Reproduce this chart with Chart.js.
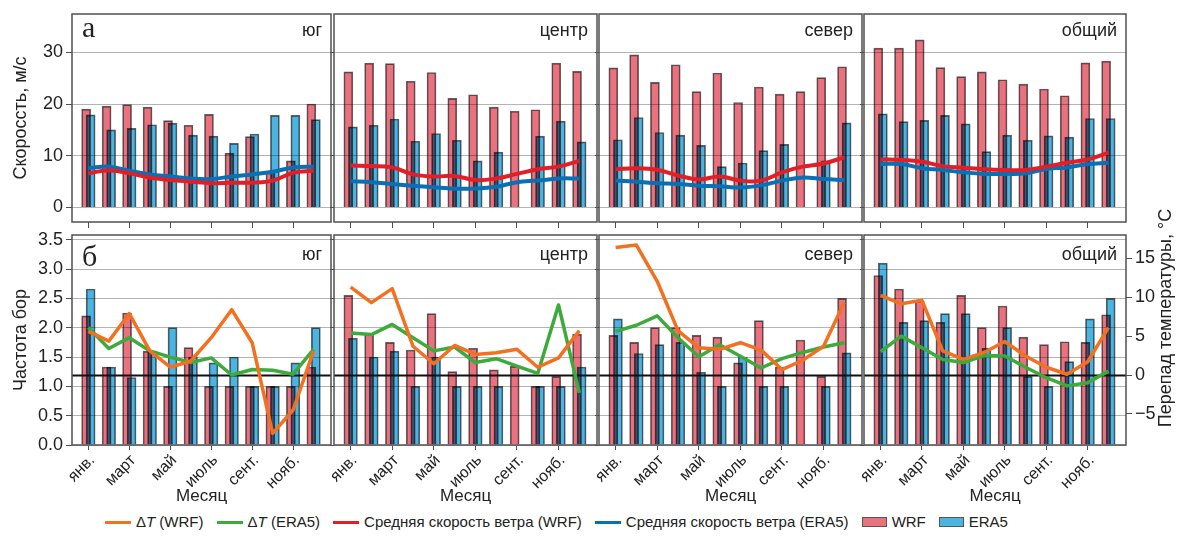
<!DOCTYPE html>
<html>
<head>
<meta charset="utf-8">
<script src="https://cdn.jsdelivr.net/npm/chart.js@4.4.1/dist/chart.umd.min.js"></script>
<style>
  html, body { margin: 0; padding: 0; background: #fff; }
  body { position: relative; width: 1180px; height: 538px; overflow: hidden;
         font-family: 'Liberation Sans', Arial, sans-serif; color: #222; }
  canvas { position: absolute; left: 0; top: 0; }
  #legend { position: absolute; left: 105px; top: 512px; height: 20px; display: flex; gap: 13px;
            font-size: 15px; line-height: 20px; white-space: nowrap; }
  .lg { display: flex; align-items: center; }
  .sw-line { width: 26px; height: 3px; margin-right: 5px; }
  .sw-box { width: 25px; height: 10px; margin-right: 5px; border: 1px solid #555; box-sizing: border-box; }
</style>
</head>
<body>
<div id="legend">
  <div class="lg"><div class="sw-line" style="background:#f37021"></div><span>Δ<i>T</i> (WRF)</span></div>
  <div class="lg"><div class="sw-line" style="background:#3daa3c"></div><span>Δ<i>T</i> (ERA5)</span></div>
  <div class="lg"><div class="sw-line" style="background:#e31e26"></div><span>Средняя скорость ветра (WRF)</span></div>
  <div class="lg"><div class="sw-line" style="background:#0a70b6"></div><span>Средняя скорость ветра (ERA5)</span></div>
  <div class="lg"><div class="sw-box" style="background:#ea717e"></div><span>WRF</span></div>
  <div class="lg"><div class="sw-box" style="background:#4bb4e1"></div><span>ERA5</span></div>
</div>
<script>
// ---- months and tick labels ----
const monthNums = [1, 2, 3, 4, 5, 6, 7, 8, 9, 10, 11, 12];
const tickMonths = [1, 3, 5, 7, 9, 11];
const tickLabels = ['янв.', 'март', 'май', 'июль', 'сент.', 'нояб.'];
const regionNames = ['юг', 'центр', 'север', 'общий'];

// ---- (а) wind speed, m/s: maximum (bars) and mean (lines) ----
const speedWrfSouth  = [19.0, 19.6, 19.9, 19.4, 16.8, 15.9, 18.0, 10.5, 13.7, 7.0, 9.0, 20.0];
const speedEra5South = [17.9, 15.0, 15.3, 16.0, 16.3, 14.0, 13.8, 12.4, 14.2, 17.8, 17.8, 17.0];
const meanWrfSouth   = [6.6, 7.2, 6.6, 5.8, 5.3, 5.0, 4.7, 4.8, 4.8, 5.2, 6.7, 7.1];
const meanEra5South  = [7.6, 7.9, 7.1, 6.4, 6.0, 5.6, 5.5, 6.0, 6.4, 6.9, 7.75, 7.9];

const speedWrfCenter  = [26.2, 27.9, 27.8, 24.4, 26.1, 21.1, 21.8, 19.4, 18.6, 18.9, 27.9, 26.3];
const speedEra5Center = [15.6, 15.9, 17.1, 12.8, 14.3, 13.0, 9.0, 10.7, null, 13.8, 16.7, 12.7];
const meanWrfCenter   = [8.1, 8.0, 7.75, 6.4, 6.0, 6.1, 5.3, 5.6, 6.5, 7.4, 7.9, 9.0];
const meanEra5Center  = [5.1, 4.9, 4.55, 4.2, 3.9, 3.65, 3.65, 4.0, 4.9, 5.2, 5.6, 5.6];

const speedWrfNorth  = [27.0, 29.5, 24.2, 27.6, 22.4, 26.0, 20.3, 23.3, 21.9, 22.4, 25.1, 27.2];
const speedEra5North = [13.1, 17.4, 14.5, 14.0, 12.0, 7.9, 8.6, 11.0, 12.2, null, 9.0, 16.35];
const meanWrfNorth   = [7.4, 7.6, 7.3, 6.2, 5.4, 6.0, 5.2, 5.2, 6.8, 7.9, 8.5, 9.7];
const meanEra5North  = [5.2, 5.0, 4.7, 4.55, 4.2, 4.1, 3.85, 4.3, 5.2, 5.8, 5.5, 5.3];

const speedWrfTotal  = [30.8, 30.8, 32.4, 27.05, 25.3, 26.2, 24.7, 23.85, 22.9, 21.6, 27.95, 28.3];
const speedEra5Total = [18.1, 16.6, 16.85, 17.8, 16.15, 10.8, 14.0, 13.0, 13.85, 13.6, 17.2, 17.2];
const meanWrfTotal   = [9.3, 9.2, 8.85, 8.0, 7.7, 7.4, 7.25, 7.25, 7.9, 8.65, 9.3, 10.6];
const meanEra5Total  = [8.4, 8.4, 7.6, 7.25, 6.8, 6.5, 6.5, 6.6, 7.45, 7.75, 8.4, 8.65];

// ---- (б) bora frequency (bars) and temperature difference, °C (lines) ----
const boraWrfSouth  = [2.2, 1.33, 2.25, 1.6, 1.0, 1.66, 1.0, 1.0, 1.0, 1.0, 1.0, 1.33];
const boraEra5South = [2.66, 1.33, 1.15, 1.6, 2.0, 1.5, 1.4, 1.5, 1.0, 1.0, 1.4, 2.0];
const dtWrfSouth    = [5.6, 4.35, 7.9, 3.1, 1.0, 1.8, 4.8, 8.4, 4.15, -7.5, -4.5, 3.1];
const dtEra5South   = [6.1, 3.4, 4.8, 3.1, 2.3, 1.6, 2.2, 0.0, 0.7, 0.6, 0.1, 3.3];

const boraWrfCenter  = [2.55, 1.88, 1.75, 1.62, 2.24, 1.25, 1.65, 1.28, 1.34, 1.0, 1.17, 1.89];
const boraEra5Center = [1.82, 1.5, 1.6, 1.0, 1.5, 1.0, 1.0, 1.0, null, 1.0, 1.0, 1.33];
const dtWrfCenter    = [11.3, 9.3, 11.1, 3.7, 1.45, 3.8, 2.65, 2.85, 3.3, 1.0, 2.2, 5.7];
const dtEra5Center   = [5.4, 5.2, 6.5, 4.8, 3.1, 3.6, 1.6, 2.1, 1.15, 0.2, 9.0, -2.3];

const boraWrfNorth  = [1.87, 1.75, 2.0, 2.0, 1.87, 1.84, 1.4, 2.12, 1.33, 1.79, 1.17, 2.5];
const boraEra5North = [2.15, 1.56, 1.71, 1.75, 1.24, 1.0, 1.5, 1.0, 1.0, null, 1.0, 1.57];
const dtWrfNorth    = [16.4, 16.7, 12.05, 5.7, 3.5, 3.3, 4.15, 3.2, 0.7, 1.9, 3.7, 9.35];
const dtEra5North   = [5.6, 6.4, 7.6, 4.8, 2.35, 3.9, 2.4, 0.9, 2.1, 2.9, 3.6, 4.15];

const boraWrfTotal  = [2.89, 2.66, 2.45, 2.09, 2.55, 2.0, 2.37, 1.84, 1.71, 1.76, 1.75, 2.22];
const boraEra5Total = [3.1, 2.09, 2.12, 2.24, 2.24, 1.65, 2.0, 1.17, 1.0, 1.42, 2.15, 2.5];
const dtWrfTotal    = [10.25, 9.15, 9.6, 3.1, 2.0, 2.9, 4.3, 2.45, 1.0, 0.1, 1.7, 6.1];
const dtEra5Total   = [3.0, 5.0, 3.5, 2.0, 1.6, 2.5, 2.45, 1.0, -0.35, -1.4, -1.0, 0.5];

// ---- axis ticks ----
const speedTicks = [0, 10, 20, 30];
const boraTicks = [0, 0.5, 1.0, 1.5, 2.0, 2.5, 3.0, 3.5];
const dtTicks = [-5, 0, 5, 10, 15];

// ---- styling ----
const COLORS = {
  wrfBar: '#ea717e', era5Bar: '#4bb4e1', barEdge: 'rgba(70,70,70,0.85)',
  wrfMean: '#e31e26', era5Mean: '#0a70b6', dtWrf: '#f37021', dtEra5: '#3daa3c',
  grid: '#b4b4b4', frame: '#505050', tick: '#505050', text: '#222'
};
const FONT = "'Liberation Sans', Arial, sans-serif";
const COLS = [[72, 331], [334, 597], [599, 862], [864, 1126]];
const ROWS = [
  { top: 14, bottom: 222, xAxisH: 8 },
  { top: 235, bottom: 445, xAxisH: 62 }
];
const BAR_SHIFT = 0.11;

const topPanels = [
  { wrf: speedWrfSouth, era5: speedEra5South, lineWrf: meanWrfSouth, lineEra5: meanEra5South },
  { wrf: speedWrfCenter, era5: speedEra5Center, lineWrf: meanWrfCenter, lineEra5: meanEra5Center },
  { wrf: speedWrfNorth, era5: speedEra5North, lineWrf: meanWrfNorth, lineEra5: meanEra5North },
  { wrf: speedWrfTotal, era5: speedEra5Total, lineWrf: meanWrfTotal, lineEra5: meanEra5Total }
];
const bottomPanels = [
  { wrf: boraWrfSouth, era5: boraEra5South, lineWrf: dtWrfSouth, lineEra5: dtEra5South },
  { wrf: boraWrfCenter, era5: boraEra5Center, lineWrf: dtWrfCenter, lineEra5: dtEra5Center },
  { wrf: boraWrfNorth, era5: boraEra5North, lineWrf: dtWrfNorth, lineEra5: dtEra5North },
  { wrf: boraWrfTotal, era5: boraEra5Total, lineWrf: dtWrfTotal, lineEra5: dtEra5Total }
];

function points(values, shift) {
  return values.map((v, i) => ({ x: monthNums[i] + shift, y: v }));
}
const setTicks = list => scale => { scale.ticks = list.map(value => ({ value })); };

// Frame, panel captions, multiply-blended bars and the ΔT = 0 reference line
const panelDecor = {
  id: 'panelDecor',
  beforeDatasetDraw(chart, args) {
    if (args.meta.type === 'bar') {
      chart.ctx.save();
      chart.ctx.globalCompositeOperation = 'multiply';
    }
  },
  afterDatasetDraw(chart, args, opts) {
    if (args.meta.type === 'bar') chart.ctx.restore();
    const ds = chart.data.datasets[args.index];
    if (opts.zeroLine && ds.label === 'ERA5') {
      const y1 = chart.scales.y1;
      const y = Math.round(y1.getPixelForValue(0)) + 0.5;
      const { left, right } = chart.chartArea;
      const ctx = chart.ctx;
      ctx.save();
      ctx.strokeStyle = '#111';
      ctx.lineWidth = 2;
      ctx.beginPath();
      ctx.moveTo(left, y);
      ctx.lineTo(right, y);
      ctx.stroke();
      ctx.restore();
    }
  },
  afterDraw(chart, args, opts) {
    const { left, right, top, bottom } = chart.chartArea;
    const ctx = chart.ctx;
    ctx.save();
    ctx.strokeStyle = COLORS.frame;
    ctx.lineWidth = 1.5;
    ctx.strokeRect(left, top, right - left, bottom - top);
    ctx.fillStyle = COLORS.text;
    if (opts.letter) {
      ctx.font = "30px 'Liberation Serif', 'Times New Roman', serif";
      ctx.textAlign = 'left';
      ctx.textBaseline = 'alphabetic';
      ctx.fillText(opts.letter, left + 10, top + opts.letterBase);
    }
    ctx.font = '18px ' + FONT;
    ctx.textAlign = 'right';
    ctx.textBaseline = 'alphabetic';
    ctx.fillText(opts.region, right - 9, top + opts.regionBase);
    if (opts.rightTitle) {
      ctx.translate(1166, 318);
      ctx.rotate(-Math.PI / 2);
      ctx.textAlign = 'center';
      ctx.textBaseline = 'middle';
      ctx.fillText(opts.rightTitle, 0, 0);
    }
    ctx.restore();
  }
};

function buildPanel(row, col, p) {
  const isTop = row === 0;
  const [left, right] = COLS[col];
  const R = ROWS[row];
  const leftW = col === 0 ? 72 : 5;
  const rightW = (!isTop && col === 3) ? 54 : 0;
  const canvas = document.createElement('canvas');
  canvas.width = 1180;
  canvas.height = 538;
  document.body.appendChild(canvas);

  const lineAxis = isTop ? 'y' : 'y1';
  const datasets = [
    { type: 'bar', label: 'WRF', data: points(p.wrf, -BAR_SHIFT), yAxisID: 'y',
      backgroundColor: COLORS.wrfBar, borderColor: COLORS.barEdge, borderWidth: 1,
      barThickness: 9, grouped: false, order: 3 },
    { type: 'bar', label: 'ERA5', data: points(p.era5, BAR_SHIFT), yAxisID: 'y',
      backgroundColor: COLORS.era5Bar, borderColor: COLORS.barEdge, borderWidth: 1,
      barThickness: 9, grouped: false, order: 2 },
    { type: 'line', label: isTop ? 'Средняя скорость ветра (ERA5)' : 'ΔT (ERA5)',
      data: points(p.lineEra5, 0), yAxisID: lineAxis,
      borderColor: isTop ? COLORS.era5Mean : COLORS.dtEra5, borderWidth: isTop ? 4 : 3.5,
      tension: isTop ? 0.4 : 0, pointRadius: 0, order: 1, borderJoinStyle: 'round' },
    { type: 'line', label: isTop ? 'Средняя скорость ветра (WRF)' : 'ΔT (WRF)',
      data: points(p.lineWrf, 0), yAxisID: lineAxis,
      borderColor: isTop ? COLORS.wrfMean : COLORS.dtWrf, borderWidth: isTop ? 4 : 3.5,
      tension: isTop ? 0.4 : 0, pointRadius: 0, order: 0, borderJoinStyle: 'round' }
  ];

  const scales = {
    x: {
      type: 'linear', min: 0.2, max: 12.85, bounds: 'data', offset: false,
      grid: { display: true, drawOnChartArea: false, drawTicks: true, tickLength: isTop ? 6 : 5,
              tickColor: COLORS.tick, offset: false },
      border: { display: false },
      ticks: {
        display: !isTop, minRotation: 45, maxRotation: 45, autoSkip: false, padding: 1,
        labelOffset: 4, color: COLORS.text, font: { family: FONT, size: 16 },
        callback: v => tickLabels[tickMonths.indexOf(v)] || ''
      },
      title: { display: !isTop, text: 'Месяц', color: COLORS.text,
               font: { family: FONT, size: 17 }, padding: { top: 0, bottom: 0 } },
      afterBuildTicks: setTicks(tickMonths),
      afterFit: s => { s.height = R.xAxisH; }
    },
    y: {
      type: 'linear', position: 'left', bounds: 'data',
      min: isTop ? -2.8 : 0, max: isTop ? 37.4 : 3.58,
      grid: { color: COLORS.grid, lineWidth: 1, drawTicks: true, tickLength: col === 0 ? 6 : 4,
              tickColor: COLORS.tick },
      border: { display: false },
      ticks: {
        display: col === 0, padding: 3, color: COLORS.text, font: { family: FONT, size: 18 },
        callback: v => isTop ? String(v) : v.toFixed(1)
      },
      title: { display: col === 0, text: isTop ? 'Скороссть, м/с' : 'Частота бор',
               color: COLORS.text, font: { family: FONT, size: 18 }, padding: { top: 10, bottom: 0 } },
      afterBuildTicks: setTicks(isTop ? speedTicks : boraTicks),
      afterFit: s => { s.width = leftW; }
    }
  };
  if (!isTop) {
    scales.y1 = {
      type: 'linear', position: 'right', display: col === 3, bounds: 'data', min: -9, max: 18,
      grid: { drawOnChartArea: false, drawTicks: true, tickLength: 6, tickColor: COLORS.tick },
      border: { display: false },
      ticks: { padding: 3, color: COLORS.text, font: { family: FONT, size: 18 },
               callback: v => String(v).replace('-', '\u2212') },
      afterBuildTicks: setTicks(dtTicks),
      afterFit: s => { s.width = rightW; }
    };
  }

  return new Chart(canvas, {
    type: 'bar',
    data: { datasets },
    options: {
      responsive: false,
      animation: false,
      events: [],
      layout: { padding: {
        left: left - leftW, right: 1180 - right - rightW,
        top: R.top, bottom: 538 - R.bottom - R.xAxisH
      } },
      scales,
      plugins: {
        legend: { display: false },
        tooltip: { enabled: false },
        panelDecor: {
          letter: col === 0 ? (isTop ? 'а' : 'б') : '',
          letterBase: isTop ? 23 : 31,
          region: regionNames[col],
          regionBase: isTop ? 22 : 25,
          zeroLine: !isTop,
          rightTitle: (!isTop && col === 3) ? 'Перепад температуры, °C' : ''
        }
      }
    },
    plugins: [panelDecor]
  });
}

topPanels.forEach((p, col) => buildPanel(0, col, p));
bottomPanels.forEach((p, col) => buildPanel(1, col, p));
</script>
</body>
</html>
